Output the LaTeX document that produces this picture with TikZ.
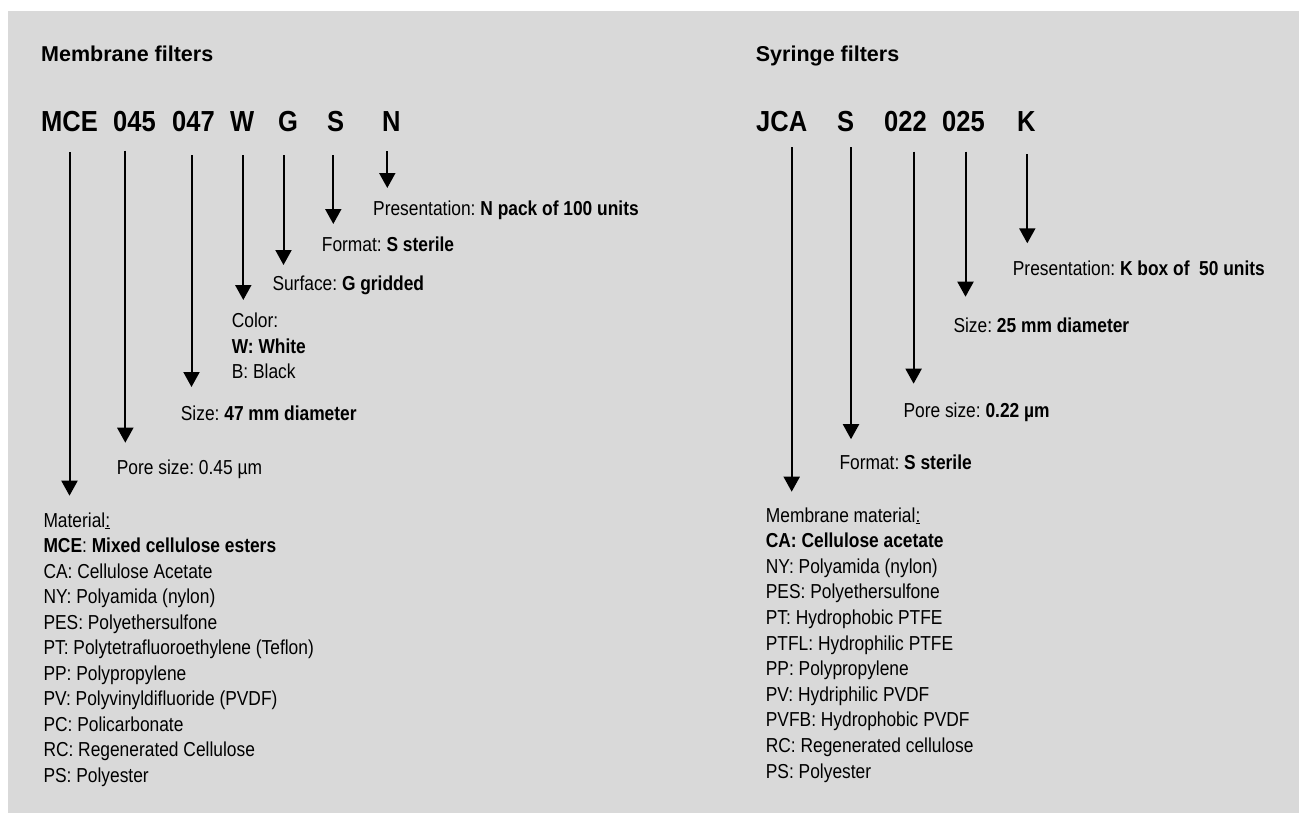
\documentclass[tikz,border=0pt]{standalone}
\usepackage{fontspec}
\setmainfont{Liberation Sans}
\newfontfamily\bodyfont[FakeStretch=0.86]{Liberation Sans}
\newfontfamily\codefont[FakeStretch=0.88]{Liberation Sans}
\usetikzlibrary{arrows.meta}
\definecolor{bg}{HTML}{D9D9D9}
\frenchspacing
\begin{document}
\begin{tikzpicture}[x=1pt,y=-1pt,
  body/.style={anchor=base west, inner sep=0pt, font=\bodyfont\fontsize{20.2}{24}\selectfont},
  head/.style={anchor=base west, inner sep=0pt, font=\fontsize{21.5}{25}\selectfont\bfseries},
  code/.style={anchor=base west, inner sep=0pt, font=\codefont\fontsize{29}{32}\selectfont\bfseries},
  arr/.style={line width=2pt, -{Triangle[width=16pt,length=15pt]}}]
\useasboundingbox (0,0) rectangle (1299,812);
\fill[white] (-5,-5) rectangle (1305,820);
\fill[bg] (8,11) rectangle (1305,820);

% ---------- Membrane filters ----------
\node[head] (hmem) at (41,61) {Membrane filters};
\node[code] (cMCE) at (41,131) {MCE};
\node[code] (c045) at (113,131) {045};
\node[code] (c047) at (172,131) {047};
\node[code] (cW) at (230,131) {W};
\node[code] (cG) at (278,131) {G};
\node[code] (cS) at (327,131) {S};
\node[code] (cN) at (382,131) {N};

\node[body] (lN) at (373,215) {Presentation: \textbf{N pack of 100 units}};
\node[body] (lS) at (321.7,251.7) {Format: \textbf{S sterile}};
\node[body] (lG) at (272.3,290.7) {Surface: \textbf{G gridded}};
\node[body] (lW1) at (231.7,327.3) {Color:};
\node[body] (lW2) at (231.7,353) {\textbf{W: White}};
\node[body] (lW3) at (231.7,378.5) {B: Black};
\node[body] (l047) at (180.7,420.7) {Size: \textbf{47 mm diameter}};
\node[body] (l045) at (116.7,474) {Pore size: 0.45 µm};

\foreach \t [count=\i] in {{Material\underline{:}},
  {\textbf{MCE}: \textbf{Mixed cellulose esters}},
  {CA: Cellulose Acetate},
  {NY: Polyamida (nylon)},
  {PES: Polyethersulfone},
  {PT: Polytetrafluoroethylene (Teflon)},
  {PP: Polypropylene},
  {PV: Polyvinyldifluoride (PVDF)},
  {PC: Policarbonate},
  {RC: Regenerated Cellulose},
  {PS: Polyester}}
  \node[body] (mat\i) at (43.3,{527+25.5*(\i-1)}) {\t};

\coordinate (sMCE) at (69.5,152);   \coordinate (eMCE) at (69.5,495.7);
\coordinate (s045) at (125.3,150.5); \coordinate (e045) at (125.3,442.7);
\coordinate (s047) at (191.5,155);  \coordinate (e047) at (191.5,387);
\coordinate (sW) at (243.3,155);    \coordinate (eW) at (243.3,300);
\coordinate (sG) at (283.5,155);    \coordinate (eG) at (283.5,265);
\coordinate (sS) at (333.3,155);    \coordinate (eS) at (333.3,224);
\coordinate (sN) at (387.3,151);    \coordinate (eN) at (387.3,188);
\foreach \k in {MCE,045,047,W,G,S,N} \draw[arr] (s\k) -- (e\k);

% ---------- Syringe filters ----------
\node[head] (hsyr) at (755.7,61.5) {Syringe filters};
\node[code] (cJCA) at (756,131) {JCA};
\node[code] (cS2) at (837,131) {S};
\node[code] (c022) at (884,131) {022};
\node[code] (c025) at (942,131) {025};
\node[code] (cK) at (1017,131) {K};

\node[body] (lK) at (1012.7,275.7) {Presentation: \textbf{K box of \ 50 units}};
\node[body] (l025) at (953.3,332.7) {Size: \textbf{25 mm diameter}};
\node[body] (l022) at (903.3,417.7) {Pore size: \textbf{0.22 µm}};
\node[body] (lS2) at (839.3,469.3) {Format: \textbf{S sterile}};

\foreach \t [count=\i] in {{Membrane material\underline{:}},
  {\textbf{CA: Cellulose acetate}},
  {NY: Polyamida (nylon)},
  {PES: Polyethersulfone},
  {PT: Hydrophobic PTFE},
  {PTFL: Hydrophilic PTFE},
  {PP: Polypropylene},
  {PV: Hydriphilic PVDF},
  {PVFB: Hydrophobic PVDF},
  {RC: Regenerated cellulose},
  {PS: Polyester}}
  \node[body] (smat\i) at (765.7,{522+25.6*(\i-1)}) {\t};

\coordinate (sJCA) at (791.7,147.3); \coordinate (eJCA) at (791.7,491.7);
\coordinate (sS2) at (851,147.3);    \coordinate (eS2) at (851,439.2);
\coordinate (s022) at (913.6,151.7); \coordinate (e022) at (913.6,383.7);
\coordinate (s025) at (965.5,151.7); \coordinate (e025) at (965.5,296.7);
\coordinate (sK) at (1027.3,154);    \coordinate (eK) at (1027.3,243.3);
\foreach \k in {JCA,S2,022,025,K} \draw[arr] (s\k) -- (e\k);
\end{tikzpicture}
\end{document}
